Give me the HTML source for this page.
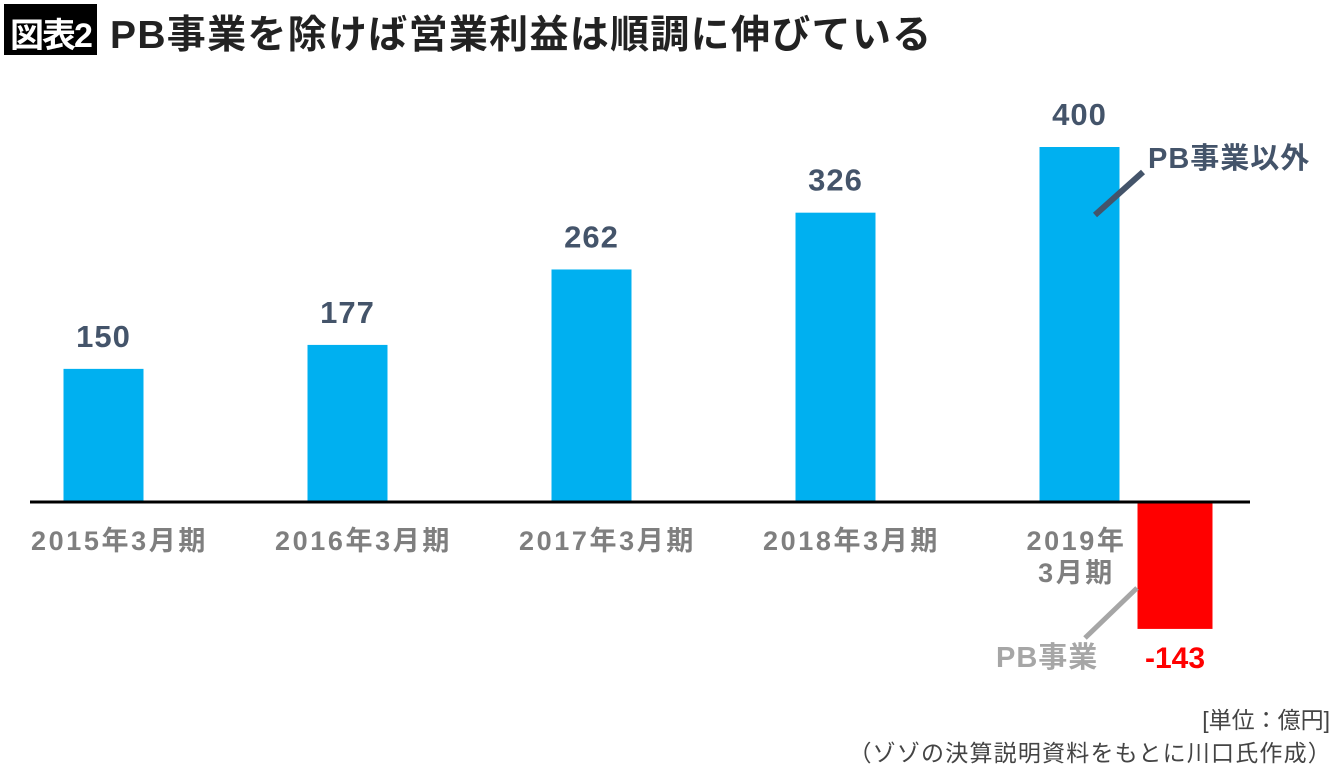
<!DOCTYPE html>
<html><head><meta charset="utf-8"><style>
body{margin:0;background:#fff;width:1340px;height:773px;overflow:hidden;position:relative;font-family:"Liberation Sans","Noto Sans CJK JP",sans-serif;}
.t{position:absolute;white-space:nowrap;font-weight:bold;}
</style></head><body>
<div style="position:absolute;left:4px;top:4px;width:93px;height:51px;background:#000;"></div>
<div class="t" style="left:10px;top:8px;font-size:34px;color:#fff;letter-spacing:-2px;">図表2</div>
<div class="t" style="left:110px;top:4px;font-size:39px;color:#222;letter-spacing:1.3px;">PB事業を除けば営業利益は順調に伸びている</div>
<svg id="chart" width="1340" height="773" style="position:absolute;left:0;top:0"></svg>
<div class="t" style="right:10px;top:701px;font-size:23px;color:#444;font-weight:normal;">[単位：億円]</div>
<div class="t" style="right:8px;top:734px;font-size:23px;color:#444;font-weight:normal;letter-spacing:1.2px;">（ゾゾの決算説明資料をもとに川口氏作成）</div>
<script>
const categories=["2015年3月期","2016年3月期","2017年3月期","2018年3月期","2019年\n3月期"];
const otherValues=[150,177,262,326,400];
const pbValues=[null,null,null,null,-143];
const svg=document.getElementById('chart');
const NS='http://www.w3.org/2000/svg';
const base=502,scale=355/400;
const y=v=>base-v*scale;
const xc=i=>103.5+i*244;
function mk(tag,attrs){const e=document.createElementNS(NS,tag);for(const k in attrs)e.setAttribute(k,attrs[k]);svg.appendChild(e);return e;}
otherValues.forEach((v,i)=>{
 const r=mk('rect',{x:xc(i)-40,y:y(v),width:80,height:base-y(v),fill:'#00b0f0'});
 
 
 const t=mk('text',{x:xc(i),y:y(v)-22,'text-anchor':'middle','font-size':31,'font-weight':'bold',fill:'#44546a','letter-spacing':1});
 t.textContent=v;
 
 
 const lines=categories[i].split('\n');
 lines.forEach((ln,j)=>{
  const c=mk('text',{x:xc(i)+(lines.length>1?-3:16),y:550+j*32,'text-anchor':'middle','font-size':27,'font-weight':'bold',fill:'#7f7f7f','letter-spacing':2.6});
  c.textContent=ln;
  
  
 });
});
pbValues.forEach((v,i)=>{
 if(v==null)return;
 const x0=xc(i)+58;
 const r=mk('rect',{x:x0,y:base,width:75,height:y(v)-base,fill:'#ff0000'});
 
 
 const t=mk('text',{x:x0+37.5,y:y(v)+39,'text-anchor':'middle','font-size':30,'font-weight':'bold',fill:'#ff0000'});
 t.textContent=v;
 
 
});
const ax=mk('line',{x1:30,x2:1250,y1:base,y2:base,stroke:'#000','stroke-width':3});


const l1=mk('line',{x1:1095,y1:215,x2:1143,y2:172,stroke:'#44546a','stroke-width':6});


const a1=mk('text',{x:1148,y:168,'font-size':29,'font-weight':'bold',fill:'#44546a','letter-spacing':1});
a1.textContent='PB事業以外';


const l2=mk('line',{x1:1137,y1:588,x2:1085,y2:638,stroke:'#a6a6a6','stroke-width':5});


const a2=mk('text',{x:996,y:667,'font-size':29,'font-weight':'bold',fill:'#a6a6a6','letter-spacing':1});
a2.textContent='PB事業';


</script>
</body></html>
